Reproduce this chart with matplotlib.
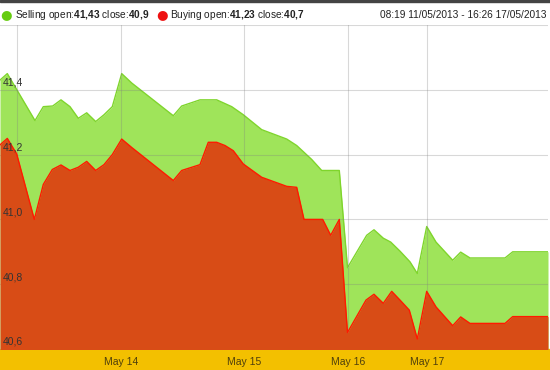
import matplotlib.pyplot as plt
from matplotlib.patches import Rectangle

plt.rcParams['font.family'] = ['Liberation Sans', 'DejaVu Sans']
plt.rcParams['mathtext.fontset'] = 'custom'
plt.rcParams['mathtext.rm'] = 'Liberation Sans'
plt.rcParams['mathtext.bf'] = 'Liberation Sans:bold'

# position along the time axis (chart units) and prices
sell_t = [0, 7.3, 35, 43.3, 52.7, 61, 70, 78.3, 86.7, 95.7, 104, 112.3, 121.7, 131.7,
          173.3, 181.7, 200, 216.7, 231.7, 243.3, 261.7, 286.7, 296.7, 311.7, 321.7,
          339.3, 347.5, 366.7, 374, 383.3, 390.7, 400, 410, 417.3, 426.7, 436, 452.7,
          460.7, 470, 505, 512.7, 548]
sell_v = [41.43, 41.45, 41.305, 41.348, 41.35, 41.369, 41.348, 41.312, 41.329, 41.302,
          41.323, 41.348, 41.45, 41.421, 41.32, 41.35, 41.369, 41.369, 41.348, 41.323,
          41.277, 41.248, 41.228, 41.185, 41.151, 41.151, 40.851, 40.951, 40.968,
          40.942, 40.93, 40.902, 40.869, 40.833, 40.978, 40.93, 40.874, 40.899, 40.881,
          40.881, 40.9, 40.9]

buy_t = [0, 7.3, 16.7, 34.3, 43.3, 52.3, 61, 70, 78.3, 86.7, 95.7, 104, 112.3, 121.7,
         131.7, 173.3, 181.7, 200, 208.3, 216.7, 225, 233.3, 243.3, 261.7, 286.7, 296.7,
         304, 322.7, 330.7, 339.3, 347.5, 366, 374, 383.3, 391.7, 400, 409.3, 417.3,
         426.7, 436, 452.7, 460.7, 470, 505, 512.7, 548]
buy_v = [41.23, 41.25, 41.202, 41.0, 41.108, 41.154, 41.168, 41.151, 41.161, 41.179,
         41.151, 41.169, 41.2, 41.248, 41.222, 41.12, 41.151, 41.169, 41.238, 41.238,
         41.228, 41.212, 41.171, 41.13, 41.102, 41.099, 41.0, 41.0, 40.951, 41.0,
         40.651, 40.751, 40.769, 40.741, 40.778, 40.751, 40.72, 40.631, 40.778, 40.73,
         40.672, 40.699, 40.679, 40.679, 40.7, 40.7]

tick_pos = [17, 121, 244, 348, 427]
tick_lab = ['', 'May 14', 'May 15', 'May 16', 'May 17']
y_ticks = [40.6, 40.8, 41.0, 41.2, 41.4, 41.6]
y_labels = ['40,6', '40,8', '41,0', '41,2', '41,4', '']

green_fill = '#9fe45a'
green_line = '#7fd52c'
red_fill = '#d84c16'
red_line = '#ff1a00'
yellow = '#f3c000'

fig = plt.figure(figsize=(5.5, 3.7), dpi=100)
fig.patches.append(Rectangle((0, 0), 1, 21 / 370, transform=fig.transFigure,
                             color=yellow, zorder=-5))
fig.patches.append(Rectangle((0, 1 - 2 / 370), 1, 2 / 370, transform=fig.transFigure,
                             color='#444444', zorder=-5))

ax = fig.add_axes([0, 21 / 370, 548 / 550, 324 / 370])
ax.fill_between(sell_t, sell_v, 40.5, color=green_fill, lw=0, zorder=1)
ax.plot(sell_t, sell_v, color=green_line, lw=1, zorder=2)
ax.fill_between(buy_t, buy_v, 40.5, color=red_fill, lw=0, zorder=3)
ax.plot(buy_t, buy_v, color=red_line, lw=1, zorder=4)

ax.set_xlim(0, 548)
ax.set_ylim(40.6, 41.6)
ax.set_xticks(tick_pos)
ax.set_xticklabels(tick_lab, fontsize=7.5, color='#4f400c')
ax.set_yticks(y_ticks)
ax.set_yticklabels([])
ax.tick_params(length=0, pad=5.5)
ax.grid(True, color='#808080', alpha=0.3, lw=0.8, zorder=5)
ax.set_axisbelow(False)
for s in ax.spines.values():
    s.set_visible(False)

for v, lab in zip(y_ticks, y_labels):
    ax.annotate(lab, xy=(0, v), xycoords=('axes fraction', 'data'), xytext=(3, 2),
                textcoords='offset pixels', ha='left', va='bottom', fontsize=7.5,
                color='#333333', zorder=6)

# header legend
y_head = 1 - 15 / 370
y_base = 1 - 18.5 / 370


def head(name, op, cl):
    op = op.replace(',', '{,}')
    cl = cl.replace(',', '{,}')
    return name + r' open:$\mathbf{' + op + r'}$ close:$\mathbf{' + cl + '}$'


fig.text(6 / 550, y_head, '\u25cf', fontsize=9.5, color='#66cc11', ha='center',
         va='center', family='DejaVu Sans')
fig.text(15 / 550, y_base, head('Selling', '41,43', '40,9'), fontsize=7.3,
         color='#222222', va='baseline', ha='left')
fig.text(162 / 550, y_head, '\u25cf', fontsize=9.5, color='#ee1111', ha='center',
         va='center', family='DejaVu Sans')
fig.text(170 / 550, y_base, head('Buying', '41,23', '40,7'), fontsize=7.3,
         color='#222222', va='baseline', ha='left')
fig.text(547 / 550, y_base, '08:19 11/05/2013 - 16:26 17/05/2013', fontsize=7.3,
         color='#222222', ha='right', va='baseline')

plt.savefig('out.png', dpi=100)
